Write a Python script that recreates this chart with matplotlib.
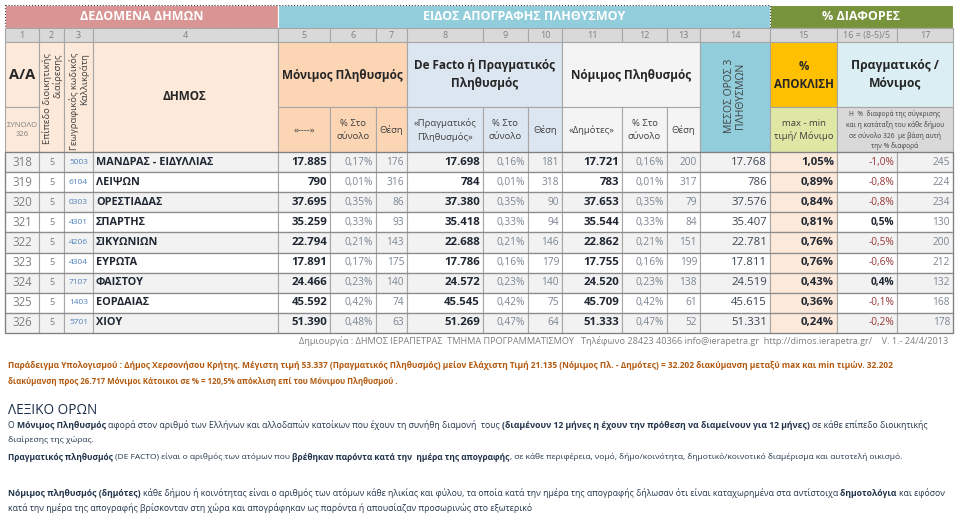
import matplotlib.pyplot as plt
from matplotlib.patches import Rectangle

plt.rcParams['font.family'] = ['Open Sans', 'DejaVu Sans']

# Δεδομένα πίνακα
aa = [318, 319, 320, 321, 322, 323, 324, 325, 326]
epipedo = [5, 5, 5, 5, 5, 5, 5, 5, 5]
kodikos = ['5003', '6104', '0303', '4301', '4206', '4304', '7107', '1403', '5701']
dimoi = ['ΜΑΝΔΡΑΣ - ΕΙΔΥΛΛΙΑΣ', 'ΛΕΙΨΩΝ', 'ΟΡΕΣΤΙΑΔΑΣ', 'ΣΠΑΡΤΗΣ', 'ΣΙΚΥΩΝΙΩΝ',
         'ΕΥΡΩΤΑ', 'ΦΑΙΣΤΟΥ', 'ΕΟΡΔΑΙΑΣ', 'ΧΙΟΥ']
monimos = [17885, 790, 37695, 35259, 22794, 17891, 24466, 45592, 51390]
monimos_pct = [0.17, 0.01, 0.35, 0.33, 0.21, 0.17, 0.23, 0.42, 0.48]
monimos_thesi = [176, 316, 86, 93, 143, 175, 140, 74, 63]
defacto = [17698, 784, 37380, 35418, 22688, 17786, 24572, 45545, 51269]
defacto_pct = [0.16, 0.01, 0.35, 0.33, 0.21, 0.16, 0.23, 0.42, 0.47]
defacto_thesi = [181, 318, 90, 94, 146, 179, 140, 75, 64]
nomimos = [17721, 783, 37653, 35544, 22862, 17755, 24520, 45709, 51333]
nomimos_pct = [0.16, 0.01, 0.35, 0.33, 0.21, 0.16, 0.23, 0.42, 0.47]
nomimos_thesi = [200, 317, 79, 84, 151, 199, 138, 61, 52]
mesos = [17768, 786, 37576, 35407, 22781, 17811, 24519, 45615, 51331]
apoklisi = [1.05, 0.89, 0.84, 0.81, 0.76, 0.76, 0.43, 0.36, 0.24]
diafora = [-1.0, -0.8, -0.8, 0.5, -0.5, -0.6, 0.4, -0.1, -0.2]
diafora_thesi = [245, 224, 234, 130, 200, 212, 132, 168, 178]

arithmoi_stilon = ['1', '2', '3', '4', '5', '6', '7', '8', '9', '10', '11', '12', '13', '14',
                   '15', '16 = (8-5)/5', '17']

fig = plt.figure(figsize=(9.6, 5.14), dpi=100)
ax = fig.add_axes([0, 0, 1, 1])
ax.set_xlim(0, 960)
ax.set_ylim(514, 0)
ax.axis('off')
renderer = fig.canvas.get_renderer()

cols = [5, 39, 64, 93, 278, 330, 376, 407, 483, 528, 562, 622, 667, 700, 770, 837, 897, 953]
GRID = '#a6a6a6'
DARK = '#1f2733'
GRAY = '#7f7f7f'
PGRAY = '#7a8591'


def cell(x0, x1, y0, y1, fc, ec=GRID, lw=0.8):
    ax.add_patch(Rectangle((x0, y0), x1 - x0, y1 - y0, facecolor=fc, edgecolor=ec, linewidth=lw))


def mid(i, j=None):
    j = i if j is None else j
    return (cols[i] + cols[j + 1]) / 2


def fmt_int(v):
    return f'{v:,}'.replace(',', '.')


def fmt_pct(v, d=2):
    return f'{v:.{d}f}%'.replace('.', ',')


# --- ζώνη τίτλων ---
cell(5, 278, 5, 28, '#d99594', ec='white')
cell(278, 770, 5, 28, '#92cddc', ec='white')
cell(770, 953, 5, 28, '#77933c', ec='white')
ax.add_patch(Rectangle((5, 5), 765, 23, fill=False, edgecolor='#404040', linestyle=':', linewidth=0.8))
for x, s in [(142, 'ΔΕΔΟΜΕΝΑ ΔΗΜΩΝ'), (524, 'ΕΙΔΟΣ ΑΠΟΓΡΑΦΗΣ ΠΛΗΘΥΣΜΟΥ'), (861, '% ΔΙΑΦΟΡΕΣ')]:
    ax.text(x, 17, s, ha='center', va='center', color='white', fontsize=9, fontweight='bold')

# --- αρίθμηση στηλών ---
for i, lab in enumerate(arithmoi_stilon):
    cell(cols[i], cols[i + 1], 28, 42, '#d9d9d9')
    ax.text(mid(i), 35.5, lab, ha='center', va='center', color=GRAY, fontsize=6.5)

# --- επικεφαλίδες ---
PEACH = '#fde9d9'
ORANGE = '#fcd5b4'
LBLUE = '#dce6f1'
LGRAY = '#f4f4f4'
cell(5, 39, 42, 107, PEACH)
cell(5, 39, 107, 152, PEACH)
cell(39, 64, 42, 152, PEACH)
cell(64, 93, 42, 152, PEACH)
cell(93, 278, 42, 152, PEACH)
cell(cols[4], cols[7], 42, 107, ORANGE)
cell(cols[7], cols[10], 42, 107, LBLUE)
cell(cols[10], cols[13], 42, 107, LGRAY)
for i in range(4, 13):
    fc = ORANGE if i < 7 else (LBLUE if i < 10 else LGRAY)
    cell(cols[i], cols[i + 1], 107, 152, fc)
cell(cols[13], cols[14], 42, 152, '#92cddc')
cell(cols[14], cols[15], 42, 107, '#ffc000')
cell(cols[14], cols[15], 107, 152, '#dfe7a5')
cell(cols[15], cols[17], 42, 107, '#daeef3')
cell(cols[15], cols[17], 107, 152, '#d9d9d9')

HC = '#262626'
SC = '#404040'
ax.text(22, 75, 'A/A', ha='center', va='center', color=HC, fontsize=10.5, fontweight='bold')
ax.text(22, 130, 'ΣΥΝΟΛΟ\n326', ha='center', va='center', color=GRAY, fontsize=5.5, linespacing=1.5)
ax.text(52, 53, 'Επίπεδο διοικητικής\nδιαίρεσης', ha='center', va='top', rotation=90,
        multialignment='right', color=SC, fontsize=6.8, linespacing=1.05)
ax.text(79, 53, 'Γεωγραφικός κωδικός\nΚαλλικράτη', ha='center', va='top', rotation=90,
        multialignment='right', color=SC, fontsize=6.8, linespacing=1.05)
ax.text(185, 97, 'ΔΗΜΟΣ', ha='center', va='center', color=HC, fontsize=8.5, fontweight='bold')
ax.text(mid(4, 6), 75, 'Μόνιμος Πληθυσμός', ha='center', va='center', color=HC, fontsize=8.5,
        fontweight='bold')
ax.text(mid(7, 9), 75, 'De Facto ή Πραγματικός\nΠληθυσμός', ha='center', va='center', color=HC,
        fontsize=8.5, fontweight='bold', linespacing=1.5)
ax.text(mid(10, 12), 75, 'Νόμιμος Πληθυσμός', ha='center', va='center', color=HC, fontsize=8.5,
        fontweight='bold')
ax.text(mid(13), 96, 'ΜΕΣΟΣ ΟΡΟΣ 3\nΠΛΗΘΥΣΜΩΝ', ha='center', va='center', rotation=90,
        multialignment='center', color=SC, fontsize=7.5, linespacing=1.05)
ax.text(mid(14), 75, '%\nΑΠΟΚΛΙΣΗ', ha='center', va='center', color=HC, fontsize=8.3, fontweight='bold',
        linespacing=1.5)
ax.text(mid(15, 16), 75, 'Πραγματικός /\nΜόνιμος', ha='center', va='center', color=HC, fontsize=8.7,
        fontweight='bold', linespacing=1.5)

sub = ['«----»', '% Στο\nσύνολο', 'Θέση', '«Πραγματικός\nΠληθυσμός»', '% Στο\nσύνολο', 'Θέση',
       '«Δημότες»', '% Στο\nσύνολο', 'Θέση']
for k, s in enumerate(sub):
    ax.text(mid(4 + k), 130, s, ha='center', va='center', color=SC, fontsize=6.8, linespacing=1.5)
ax.text(mid(14), 130, 'max - min\nτιμή/ Μόνιμο', ha='center', va='center', color=SC, fontsize=6.8,
        linespacing=1.5)
ax.text(mid(15, 16), 130, 'Η  %  διαφορά της σύγκρισης\nκαι η κατάταξη του κάθε δήμου\nσε σύνολο 326  με βάση αυτή\nτην % διαφορά',
        ha='center', va='center', color=SC, fontsize=4.8, linespacing=1.45)

# --- γραμμές δεδομένων ---
top = 152
bottom = 333
rh = (bottom - top) / 9
pad = 3
for r in range(9):
    y0 = top + r * rh
    yc = y0 + rh / 2
    bg = '#f2f2f2' if r % 2 == 0 else 'white'
    for i in range(17):
        cell(cols[i], cols[i + 1], y0, y0 + rh, PEACH if i == 14 else bg)

    def right(i, s, **kw):
        ax.text(cols[i + 1] - pad, yc, s, ha='right', va='center', **kw)

    def center(i, s, **kw):
        ax.text(mid(i), yc, s, ha='center', va='center', **kw)

    center(0, str(aa[r]), color=GRAY, fontsize=8.3)
    center(1, str(epipedo[r]), color=GRAY, fontsize=6.5)
    center(2, kodikos[r], color='#4f81bd', fontsize=6)
    ax.text(cols[3] + 3, yc, dimoi[r], ha='left', va='center', color=DARK, fontsize=7.8, fontweight='bold')
    right(4, fmt_int(monimos[r]), color=DARK, fontsize=8.2, fontweight='bold')
    right(5, fmt_pct(monimos_pct[r]), color=PGRAY, fontsize=7.3)
    right(6, str(monimos_thesi[r]), color=PGRAY, fontsize=7.3)
    right(7, fmt_int(defacto[r]), color=DARK, fontsize=8.2, fontweight='bold')
    right(8, fmt_pct(defacto_pct[r]), color=PGRAY, fontsize=7.3)
    right(9, str(defacto_thesi[r]), color=PGRAY, fontsize=7.3)
    right(10, fmt_int(nomimos[r]), color=DARK, fontsize=8.2, fontweight='bold')
    right(11, fmt_pct(nomimos_pct[r]), color=PGRAY, fontsize=7.3)
    right(12, str(nomimos_thesi[r]), color=PGRAY, fontsize=7.3)
    right(13, fmt_int(mesos[r]), color='#3a4450', fontsize=8.2)
    right(14, fmt_pct(apoklisi[r]), color=DARK, fontsize=8.2, fontweight='bold')
    if diafora[r] < 0:
        right(15, fmt_pct(diafora[r], 1), color='#953735', fontsize=7.3)
    else:
        right(15, fmt_pct(diafora[r], 1), color=DARK, fontsize=7.3, fontweight='bold')
    right(16, str(diafora_thesi[r]), color=PGRAY, fontsize=7.3)

for r in range(1, 9):
    ax.plot([cols[0], cols[-1]], [top + r * rh] * 2, color='#8c8c8c', linewidth=0.9)
ax.add_patch(Rectangle((5, top), 948, bottom - top, fill=False, edgecolor='#7f7f7f', linewidth=0.9))


# --- κείμενα κάτω από τον πίνακα ---
def seg_width(s, size, weight):
    t = ax.text(0, 0, s + '|', fontsize=size, fontweight=weight)
    t2 = ax.text(0, 0, '|', fontsize=size, fontweight=weight)
    width = t.get_window_extent(renderer).width - t2.get_window_extent(renderer).width
    t.remove()
    t2.remove()
    return width


def rich_line(x, y, parts, size, color, x_end=None):
    parts = [(s, 'bold' if b else 'normal') for s, b in parts]
    if x_end is not None:
        total = sum(seg_width(s, size, w) for s, w in parts)
        size = size * (x_end - x) / total
    cur = x
    for s, w in parts:
        ax.text(cur, y, s, fontsize=size, fontweight=w, color=color, va='center', ha='left')
        cur += seg_width(s, size, w)


rich_line(299, 341, [('Δημιουργία : ΔΗΜΟΣ ΙΕΡΑΠΕΤΡΑΣ  ΤΜΗΜΑ ΠΡΟΓΡΑΜΜΑΤΙΣΜΟΥ   Τηλέφωνο 28423 40366 '
                      'info@ierapetra.gr  http://dimos.ierapetra.gr/    V. 1.- 24/4/2013', False)],
          7, GRAY, x_end=950)

BROWN = '#b35a10'
rich_line(8, 366, [('Παράδειγμα Υπολογισμού : Δήμος Χερσονήσου Κρήτης. Μέγιστη τιμή 53.337 (Πραγματικός '
                    'Πληθυσμός) μείον Ελάχιστη Τιμή 21.135 (Νόμιμος Πλ. - Δημότες) = 32.202 διακύμανση '
                    'μεταξύ max και min τιμών. 32.202', True)], 7, BROWN, x_end=896)
rich_line(8, 381, [('διακύμανση προς 26.717 Μόνιμοι Κάτοικοι σε % = 120,5% απόκλιση επί του Μόνιμου '
                    'Πληθυσμού .', True)], 7, BROWN, x_end=394)

NAVY = '#22344c'
rich_line(8, 410, [('ΛΕΞΙΚΟ ΟΡΩΝ', False)], 9, '#1b2d47', x_end=97)
rich_line(8, 425, [('Ο ', False), ('Μόνιμος Πληθυσμός ', True),
                   ('αφορά στον αριθμό των Ελλήνων και αλλοδαπών κατοίκων που έχουν τη συνήθη διαμονή  τους ', False),
                   ('(διαμένουν 12 μήνες η έχουν την πρόθεση να διαμείνουν για 12 μήνες) ', True),
                   ('σε κάθε επίπεδο διοικητικής', False)], 7, NAVY, x_end=928)
rich_line(8, 440, [('διαίρεσης της χώρας.', False)], 7, NAVY, x_end=93)
rich_line(8, 457, [('Πραγματικός πληθυσμός ', True), ('(DE FACTO) είναι ο αριθμός των ατόμων που ', False),
                   ('βρέθηκαν παρόντα κατά την  ημέρα της απογραφής', True),
                   (', σε κάθε περιφέρεια, νομό, δήμο/κοινότητα, δημοτικό/κοινοτικό διαμέρισμα και '
                    'αυτοτελή οικισμό.', False)], 7, NAVY, x_end=898)
rich_line(8, 493, [('Νόμιμος πληθυσμός (δημότες) ', True),
                   ('κάθε δήμου ή κοινότητας είναι ο αριθμός των ατόμων κάθε ηλικίας και φύλου, τα οποία '
                    'κατά την ημέρα της απογραφής δήλωσαν ότι είναι καταχωρημένα στα αντίστοιχα ', False),
                   ('δημοτολόγια ', True), ('και εφόσον', False)], 7, NAVY, x_end=937)
rich_line(8, 508, [('κατά την ημέρα της απογραφής βρίσκονταν στη χώρα και απογράφηκαν ως παρόντα ή '
                    'απουσίαζαν προσωρινώς στο εξωτερικό', False)], 7, NAVY, x_end=527)

fig.savefig('out.png', dpi=100)
